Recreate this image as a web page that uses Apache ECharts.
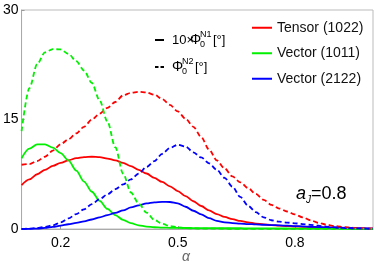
<!DOCTYPE html>
<html><head><meta charset="utf-8">
<script src="https://cdn.jsdelivr.net/npm/echarts@6/dist/echarts.min.js"></script>
<style>html,body{margin:0;padding:0;background:#fff}#c{width:374px;height:266px}</style>
</head><body><div id="c"></div>
<script>
// alpha grid (x values)
const alpha = [
  0.10,0.12,0.14,0.16,0.18,0.20,0.22,0.24,0.26,0.28,
  0.30,0.32,0.34,0.36,0.38,0.40,0.42,0.44,0.46,0.48,
  0.50,0.52,0.54,0.56,0.58,0.60,0.62,0.64,0.66,0.68,
  0.70,0.72,0.74,0.76,0.78,0.80,0.82,0.84,0.86,0.88,
  0.90,0.92,0.94,0.96,0.98,1.00];
// 10 x Phi0^N1 (solid)
const tensor1022_N1 = [
  6.0,6.8,7.5,8.1,8.65,9.05,9.4,9.7,9.85,9.9,
  9.85,9.65,9.4,9.05,8.6,8.1,7.6,7.0,6.45,5.85,
  5.2,4.5,3.8,3.15,2.55,2.05,1.65,1.35,1.1,0.9,
  0.75,0.63,0.53,0.45,0.39,0.34,0.3,0.26,0.22,0.18,
  0.15,0.12,0.1,0.08,0.06,0.05];
const vector1011_N1 = [
  9.7,11.0,11.6,11.6,11.15,10.4,9.4,8.0,6.5,5.1,
  3.85,2.75,1.9,1.25,0.8,0.5,0.33,0.24,0.19,0.16,
  0.15,0.14,0.13,0.12,0.12,0.11,0.1,0.1,0.1,0.09,
  0.09,0.08,0.08,0.07,0.07,0.06,0.06,0.05,0.05,0.05,
  0.04,0.04,0.03,0.03,0.02,0.02];
const vector2122_N1 = [
  0,0.02,0.06,0.15,0.3,0.45,0.65,0.85,1.05,1.3,
  1.6,1.9,2.2,2.55,2.95,3.25,3.5,3.65,3.72,3.7,
  3.5,3.05,2.5,2.0,1.5,1.12,0.92,0.8,0.74,0.68,
  0.63,0.58,0.54,0.5,0.45,0.4,0.36,0.31,0.27,0.23,
  0.19,0.15,0.12,0.09,0.07,0.05];
// Phi0^N2 (dashed)
const tensor1022_N2 = [
  8.8,8.9,9.3,9.9,10.75,11.6,12.3,13.1,14.0,15.0,
  15.8,16.6,17.4,18.3,18.65,18.8,18.7,18.4,17.8,17.0,
  16.1,15.1,14.0,12.6,10.9,9.4,8.3,7.2,6.4,5.6,
  4.8,4.0,3.3,2.8,2.4,2.0,1.6,1.2,0.85,0.6,
  0.42,0.3,0.2,0.13,0.08,0.05];
const vector1011_N2 = [
  13.4,19.3,22.6,24.2,24.65,24.6,24.0,23.0,21.7,20.0,
  17.6,14.7,11.2,7.6,5.0,3.5,2.25,1.25,0.7,0.4,
  0.22,0.12,0.08,0.06,0.05,0.04,0.04,0.03,0.03,0.03,
  0.03,0.02,0.02,0.02,0.02,0.02,0.02,0.01,0.01,0.01,
  0.01,0.01,0.01,0.01,0.01,0.01];
const vector2122_N2 = [
  0,0.05,0.15,0.3,0.5,0.9,1.45,2.05,2.7,3.4,
  4.1,4.75,5.45,6.1,6.8,7.6,8.5,9.3,10.3,11.1,
  11.55,11.3,10.5,9.8,9.0,8.1,7.0,5.8,4.4,3.2,
  2.3,1.6,1.2,1.0,0.88,0.78,0.68,0.57,0.45,0.33,
  0.24,0.17,0.12,0.09,0.07,0.05];
const names = ['Tensor (1022)','Vector (1011)','Vector (2122)'];
const colors = ['#ff0000','#00f000','#0000ff'];
const xTicks = [0.2,0.5,0.8];
const yTicks = [0,15,30];

const FONT = "'Liberation Sans', Arial, sans-serif";
const pairs = v => alpha.map((a,i)=>[a, v[i]]);
function mk(name, vals, color, dashed){
  return {name, type:'line', data:pairs(vals), symbol:'none', showSymbol:false,
    smooth:0.3, smoothMonotone:'x', silent:true,
    lineStyle:{color, width:1.8, type: dashed ? [5,3] : 'solid'},
    itemStyle:{color}};
}
const series = [
  mk(names[0], tensor1022_N1, colors[0], false),
  mk(names[1], vector1011_N1, colors[1], false),
  mk(names[2], vector2122_N1, colors[2], false),
  mk(names[0], tensor1022_N2, colors[0], true),
  mk(names[1], vector1011_N2, colors[1], true),
  mk(names[2], vector2122_N2, colors[2], true)
];
function txt(x,y,text,size,opts){
  return {type:'text', x, y, silent:true, style:{text, font:(opts&&opts.italic?'italic ':'')+size+'px '+FONT,
    fill:(opts&&opts.fill)||'#000', textAlign:'left', textVerticalAlign:'middle', verticalAlign:'middle'}};
}
const chart = echarts.init(document.getElementById('c'), null, {renderer:'canvas'});
chart.setOption({
  animation:false,
  backgroundColor:'#fff',
  grid:{left:19, right:1, top:10, bottom:37, show:true, borderColor:'#bbbbbb', borderWidth:1},
  xAxis:{type:'value', min:0.1, max:1.0,
    axisLine:{lineStyle:{color:'#aaaaaa', width:1}},
    axisTick:{inside:true, length:3, lineStyle:{color:'#999'}, customValues:xTicks},
    axisLabel:{customValues:xTicks, color:'#000', fontSize:14, fontFamily:FONT, margin:7, formatter:v=>v.toFixed(1)},
    splitLine:{show:false}},
  yAxis:{type:'value', min:0, max:30, interval:15,
    axisLine:{show:true, lineStyle:{color:'#aaaaaa', width:1}},
    axisTick:{show:true, inside:true, length:3, lineStyle:{color:'#999'}},
    axisLabel:{color:'#000', fontSize:14, fontFamily:FONT, margin:3},
    splitLine:{show:false}},
  legend:{data:names.map(n=>({name:n, icon:'rect'})), orient:'vertical', left:252, top:20, itemWidth:20, itemHeight:2, itemGap:10,
    padding:0, textStyle:{fontSize:14, fontFamily:FONT, color:'#111', lineHeight:15.5}, selectedMode:false},
  series,
  graphic:[
    {type:'line', silent:true, shape:{x1:155,y1:40,x2:164,y2:40}, style:{stroke:'#000', lineWidth:2}},
    txt(172,40,'10×',13), txt(190,40,'Φ',14), txt(200,35,'N1',9), txt(200,45,'0',9), txt(213,40,'[°]',13),
    {type:'line', silent:true, shape:{x1:155,y1:67,x2:164,y2:67}, style:{stroke:'#000', lineWidth:2, lineDash:[3.5,2]}},
    txt(172,67,'Φ',14), txt(182,62,'N2',9), txt(182,72,'0',9), txt(195,67,'[°]',13),
    txt(296,194,'a',18,{italic:true}), txt(306,200,'J',10,{italic:true}), txt(311,194,'=0.8',18),
    txt(182,257,'α',14,{italic:true, fill:'#666'})
  ]
});
</script></body></html>
